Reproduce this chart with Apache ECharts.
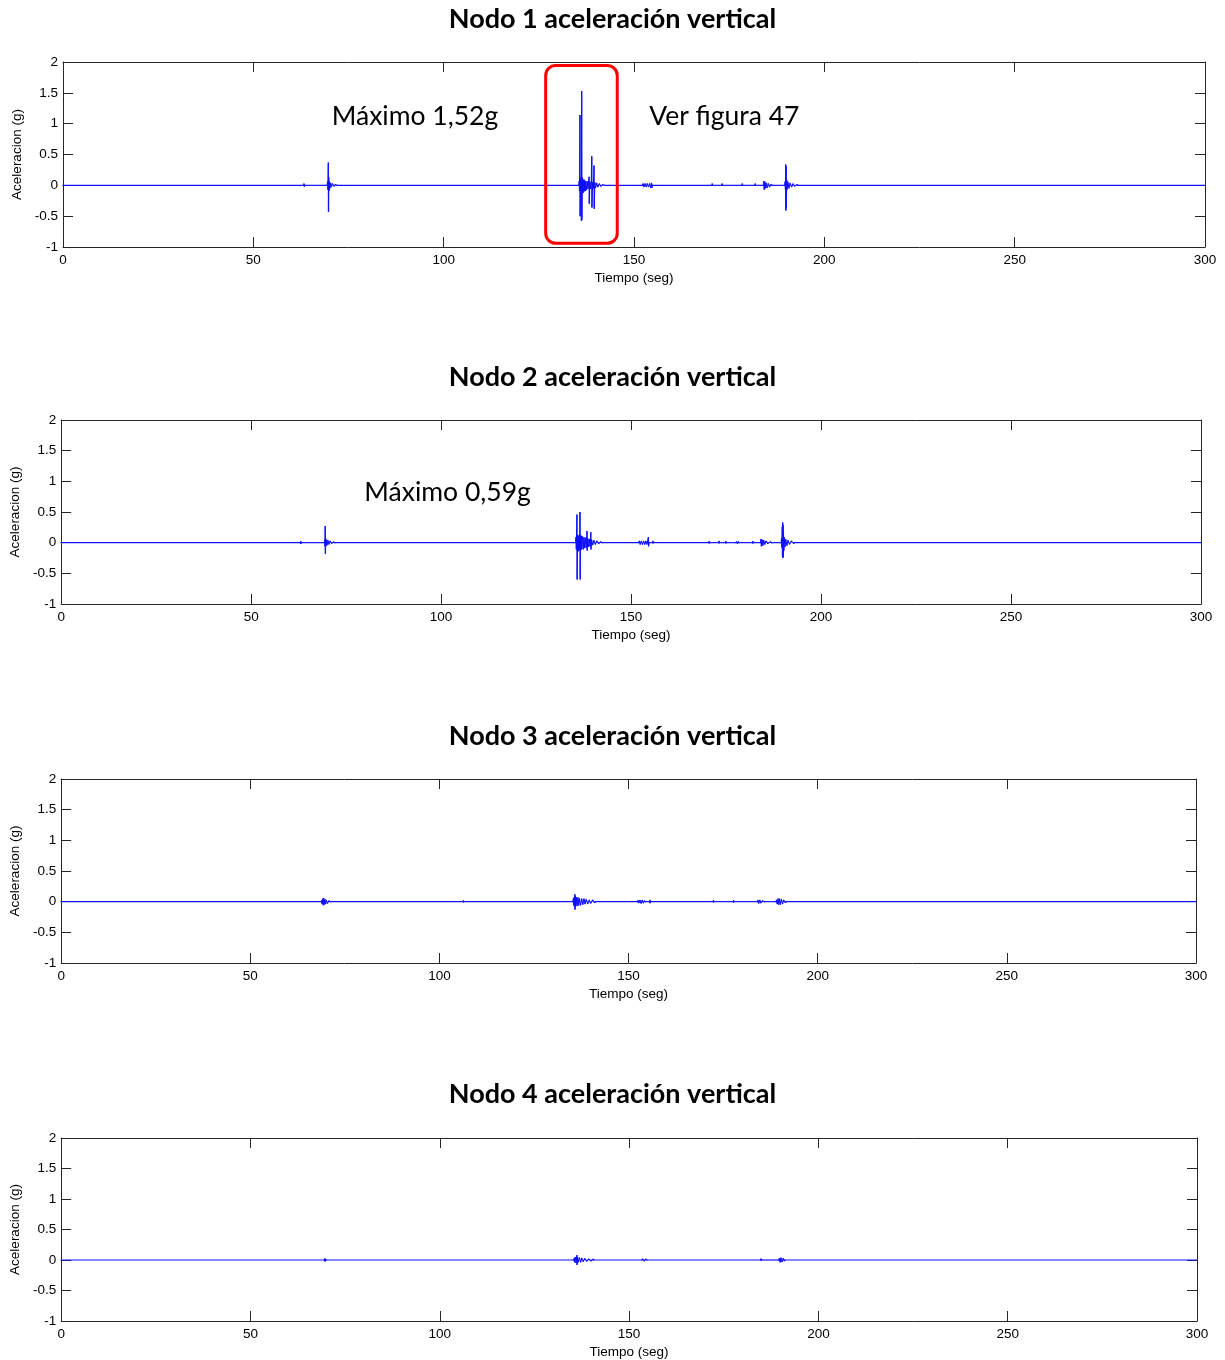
<!DOCTYPE html>
<html>
<head>
<meta charset="utf-8">
<script src="https://cdn.jsdelivr.net/npm/echarts@6/dist/echarts.min.js"></script>
<style>
  html, body { margin: 0; padding: 0; background: #fff; }
  #chart { width: 1225px; height: 1360px; }
</style>
</head>
<body>
<div id="chart"></div>
<script>
// Vertical acceleration records (time in s, acceleration in g) for the four nodes.
const titles = [
  'Nodo 1 aceleración vertical',
  'Nodo 2 aceleración vertical',
  'Nodo 3 aceleración vertical',
  'Nodo 4 aceleración vertical'
];
const xTicks = [0, 50, 100, 150, 200, 250, 300];
const yTicks = [-1, -0.5, 0, 0.5, 1, 1.5, 2];

const nodo1 = [
  [0,0],
  [63.2,0],[63.3,0.02],[63.4,-0.01],[63.5,0],
  [69.4,0],[69.5,0.05],[69.6,-0.06],[69.7,0.36],[69.75,-0.42],[69.8,0.12],[69.9,-0.08],[70.0,0.05],[70.1,-0.04],[70.3,0.03],[70.5,-0.02],[70.8,0.02],[71.2,-0.01],[71.6,0.01],[72,0],
  [135.5,0],[135.6,0.06],[135.7,-0.08],[135.8,1.13],[135.85,-0.49],[135.9,0.10],[136.0,-0.12],[136.1,0.08],[136.2,-0.57],[136.25,1.52],[136.3,-0.55],[136.4,0.12],[136.5,-0.10],[136.6,0.09],[136.7,-0.11],[136.8,0.07],[136.9,-0.09],[137.0,0.08],[137.2,-0.08],[137.3,0.06],[137.5,-0.07],[137.7,0.06],[137.9,-0.05],[138.1,0.05],[138.2,0.13],[138.25,-0.29],[138.4,0.05],[138.6,-0.05],[138.8,0.05],[138.9,0.46],[138.95,-0.35],[139.1,0.04],[139.3,-0.04],[139.5,0.31],[139.55,-0.37],[139.7,0.04],[139.9,-0.03],[140.2,0.03],[140.5,-0.02],[140.9,0.02],[141.3,-0.01],[141.8,0.01],[142.2,0],
  [152.2,0],[152.4,0.02],[152.6,-0.02],[152.9,0.02],[153.2,-0.02],[153.5,0.02],[153.8,-0.02],[154.1,0.02],[154.4,-0.03],[154.6,0.03],[154.7,-0.03],[154.8,0],
  [170.5,0],[170.55,0.02],[170.6,0],
  [173.1,0],[173.15,0.02],[173.2,0],
  [178.4,0],[178.45,0.02],[178.5,0],
  [181.8,0],[181.85,0.02],[181.9,0],
  [184.0,0],[184.1,0.06],[184.2,-0.06],[184.4,0.05],[184.6,-0.04],[184.8,0.03],[185.0,-0.03],[185.3,0.02],[185.6,-0.02],[186.0,0.01],[186.3,0],
  [189.6,0],[189.7,0.05],[189.8,-0.06],[189.85,0.33],[189.9,-0.40],[189.95,0.30],[190.0,-0.35],[190.1,0.08],[190.2,-0.06],[190.4,0.05],[190.7,-0.04],[191.0,0.03],[191.4,-0.02],[191.8,0.02],[192.2,-0.01],[192.8,0.01],[193.1,0],
  [300,0]
];

const nodo2 = [
  [0,0],
  [63.0,0],[63.05,0.015],[63.1,-0.01],[63.2,0],
  [69.3,0],[69.4,0.04],[69.45,-0.05],[69.5,0.26],[69.55,-0.17],[69.6,0.06],[69.7,-0.05],[69.8,0.04],[70.0,-0.03],[70.2,0.03],[70.5,-0.02],[70.8,0.02],[71.2,-0.01],[71.7,0.01],[72.0,0],
  [135.4,0],[135.5,0.08],[135.6,-0.1],[135.75,0.45],[135.8,-0.59],[135.9,0.12],[136.0,-0.12],[136.1,0.10],[136.2,-0.13],[136.3,0.11],[136.5,-0.1],[136.55,0.49],[136.6,-0.59],[136.7,0.12],[136.8,-0.11],[136.9,0.10],[137.0,-0.09],[137.2,0.09],[137.4,-0.1],[137.6,0.08],[137.8,-0.08],[138.0,0.07],[138.2,-0.07],[138.4,0.18],[138.45,-0.12],[138.6,0.06],[138.8,-0.06],[139.0,0.05],[139.2,-0.05],[139.4,0.16],[139.45,-0.1],[139.6,0.04],[139.9,-0.03],[140.2,0.03],[140.6,-0.02],[141.0,0.02],[141.5,-0.01],[142.0,0.01],[142.3,0],
  [152.0,0],[152.2,0.02],[152.4,-0.02],[152.7,0.02],[153.0,-0.02],[153.3,0.02],[153.6,-0.02],[153.9,0.02],[154.2,-0.02],[154.55,0.08],[154.6,-0.05],[154.7,0],
  [155.7,0],[155.75,0.02],[155.8,0],
  [170.5,0],[170.55,0.015],[170.6,0],
  [173.1,0],[173.15,0.02],[173.2,0],
  [174.9,0],[174.95,0.015],[175.0,0],
  [177.6,0],[177.8,0.01],[178.0,-0.01],[178.2,0.01],[178.4,0],
  [182.0,0],[182.05,0.015],[182.1,0],
  [184.1,0],[184.2,0.05],[184.3,-0.05],[184.5,0.04],[184.7,-0.04],[184.9,0.03],[185.2,-0.02],[185.5,0.02],[186.0,-0.01],[186.7,0.01],[187.0,0],
  [189.5,0],[189.6,0.06],[189.7,-0.07],[189.8,0.25],[189.85,-0.2],[189.9,0.32],[189.95,-0.24],[190.0,0.28],[190.05,-0.22],[190.1,0.15],[190.2,-0.12],[190.3,0.08],[190.5,-0.06],[190.7,0.05],[191.0,-0.04],[191.3,0.03],[191.7,-0.02],[192.2,0.02],[192.8,-0.01],[193.0,0],
  [300,0]
];

const nodo3 = [
  [0,0],
  [68.8,0],[68.9,0.02],[69.0,-0.03],[69.2,0.04],[69.3,-0.05],[69.4,0.05],[69.5,-0.04],[69.7,0.03],[69.9,-0.03],[70.1,0.02],[70.4,-0.02],[70.8,0.01],[71.2,0],
  [106.3,0],[106.35,0.01],[106.4,0],
  [135.3,0],[135.4,0.04],[135.5,-0.05],[135.6,0.06],[135.7,-0.07],[135.8,0.11],[135.85,-0.12],[135.9,0.08],[136.0,-0.07],[136.2,0.06],[136.4,-0.06],[136.6,0.06],[136.8,-0.05],[137.0,0.05],[137.3,-0.05],[137.6,0.04],[137.9,-0.04],[138.2,0.04],[138.5,-0.03],[138.8,0.03],[139.2,-0.03],[139.6,0.02],[140.0,-0.02],[140.5,0.02],[141.0,-0.01],[141.3,0],
  [152.4,0],[152.5,0.015],[152.7,-0.015],[153.0,0.02],[153.3,-0.02],[153.6,0.02],[153.9,-0.015],[154.2,0.01],[154.5,0],
  [155.6,0],[155.65,0.02],[155.7,-0.015],[155.8,0],
  [172.4,0],[172.45,0.015],[172.5,0],
  [177.7,0],[177.75,0.015],[177.8,0],
  [184.1,0],[184.2,0.02],[184.4,-0.02],[184.7,0.02],[185.0,-0.015],[185.4,0.01],[185.9,0],
  [189.0,0],[189.1,0.02],[189.3,-0.03],[189.5,0.04],[189.7,-0.04],[189.9,0.04],[190.1,-0.04],[190.4,0.03],[190.7,-0.03],[191.0,0.02],[191.4,-0.01],[191.7,0],
  [300,0]
];

const nodo4 = [
  [0,0],
  [69.5,0],[69.6,0.015],[69.7,-0.015],[69.8,0.01],[70.0,0],
  [135.4,0],[135.5,0.02],[135.6,-0.03],[135.8,0.04],[136.0,-0.04],[136.2,0.07],[136.25,-0.07],[136.4,0.04],[136.6,-0.03],[136.9,0.03],[137.2,-0.03],[137.5,0.025],[137.9,-0.02],[138.3,0.02],[138.8,-0.015],[139.3,0.01],[140.0,-0.01],[140.5,0.01],[140.7,0],
  [153.4,0],[153.6,0.012],[154.0,-0.012],[154.4,0.01],[154.7,0],
  [184.8,0],[184.85,0.012],[184.9,0],
  [189.6,0],[189.7,0.02],[189.9,-0.03],[190.1,0.03],[190.4,-0.025],[190.7,0.02],[191.0,-0.01],[191.2,0],
  [300,0]
];

const series = [nodo1, nodo2, nodo3, nodo4];

// Annotation texts of the first two panels
const notes1 = ['Máximo 1,52g', 'Ver figura 47'];
const notes2 = ['Máximo 0,59g'];
// Highlight box around the main event on node 1 (time range, acceleration range)
const boxT = [126.8, 145.6];
const boxA = [1.945, -0.94];

// Layout of the four panels
const panels = [
  { left: 63, right: 20, top: 62,   height: 185, titleTop: 1,    yNameGap: 33 },
  { left: 59, right: 24, top: 420,  height: 184, titleTop: 359,  yNameGap: 36 },
  { left: 60, right: 29, top: 779,  height: 184, titleTop: 718,  yNameGap: 36 },
  { left: 61, right: 28, top: 1138, height: 184, titleTop: 1076, yNameGap: 35 }
];

const axisCol = '#262626';
const traceCol = '#1010ff';
const labelFont = { fontFamily: 'Liberation Sans, Arial, sans-serif', fontSize: 13.5, color: '#000' };

// Each sample is joined to the previous one with its own segment, so
// sub-pixel oscillations stay visible as a dense trace.
function traceRenderer(pts) {
  return function (params, api) {
    const i = params.dataIndex;
    if (i === 0) return null;
    const a = api.coord(pts[i - 1]);
    const b = api.coord([api.value(0), api.value(1)]);
    return {
      type: 'line',
      shape: { x1: a[0], y1: a[1], x2: b[0], y2: b[1] },
      style: { stroke: traceCol, lineWidth: 1.2, lineCap: 'square' },
      silent: true
    };
  };
}

const option = {
  animation: false,
  backgroundColor: '#fff',
  title: [], grid: [], xAxis: [], yAxis: [], series: []
};

panels.forEach((p, i) => {
  option.title.push({
    text: titles[i], left: 'center', top: p.titleTop,
    textStyle: { fontFamily: 'Lato, Noto Sans, sans-serif', fontWeight: 'bold', fontSize: 27, color: '#000' }
  });
  option.grid.push({ left: p.left, right: p.right, top: p.top, height: p.height, show: false });
  const xBase = {
    type: 'value', gridIndex: i, min: xTicks[0], max: xTicks[xTicks.length - 1], interval: 50,
    splitLine: { show: false },
    axisLine: { show: true, onZero: false, lineStyle: { color: axisCol, width: 1 } },
    axisTick: { show: true, inside: true, length: 10, lineStyle: { color: axisCol } }
  };
  option.xAxis.push(Object.assign({}, xBase, {
    position: 'bottom',
    name: 'Tiempo (seg)', nameLocation: 'middle', nameGap: 24,
    nameTextStyle: labelFont,
    axisLabel: Object.assign({ margin: 6 }, labelFont)
  }));
  option.xAxis.push(Object.assign({}, xBase, { position: 'top', axisLabel: { show: false } }));
  const yBase = {
    type: 'value', gridIndex: i, min: yTicks[0], max: yTicks[yTicks.length - 1], interval: 0.5,
    splitLine: { show: false },
    axisLine: { show: true, onZero: false, lineStyle: { color: axisCol, width: 1 } },
    axisTick: { show: true, inside: true, length: 10, lineStyle: { color: axisCol } }
  };
  option.yAxis.push(Object.assign({}, yBase, {
    position: 'left',
    name: 'Aceleracion (g)', nameLocation: 'middle', nameGap: p.yNameGap,
    nameTextStyle: labelFont,
    axisLabel: Object.assign({ margin: 5 }, labelFont)
  }));
  option.yAxis.push(Object.assign({}, yBase, { position: 'right', axisLabel: { show: false } }));
  option.series.push({
    type: 'custom', xAxisIndex: 2 * i, yAxisIndex: 2 * i,
    data: series[i], renderItem: traceRenderer(series[i]), silent: true
  });
});

const chart = echarts.init(document.getElementById('chart'), null, { renderer: 'canvas' });
chart.setOption(option);

// Annotations placed through the data coordinates of each panel
const noteFont = '26.5px Lato, Noto Sans, sans-serif';
const at = (i, t, a) => chart.convertToPixel({ gridIndex: i }, [t, a]);
const b0 = at(0, boxT[0], boxA[0]);
const b1 = at(0, boxT[1], boxA[1]);
const n1a = at(0, 70.6, 1.11);
const n1b = at(0, 154, 1.11);
const n2a = at(1, 79.8, 0.82);
chart.setOption({
  graphic: [
    { type: 'rect', shape: { x: b0[0], y: b0[1], width: b1[0] - b0[0], height: b1[1] - b0[1], r: 10 },
      style: { fill: 'none', stroke: '#ff0000', lineWidth: 3 }, z: 100 },
    { type: 'text', x: n1a[0], y: n1a[1], style: { text: notes1[0], font: noteFont, fill: '#000', textVerticalAlign: 'middle' }, z: 100 },
    { type: 'text', x: n1b[0], y: n1b[1], style: { text: notes1[1], font: noteFont, fill: '#000', textVerticalAlign: 'middle' }, z: 100 },
    { type: 'text', x: n2a[0], y: n2a[1], style: { text: notes2[0], font: noteFont, fill: '#000', textVerticalAlign: 'middle' }, z: 100 }
  ]
});
</script>
</body>
</html>
